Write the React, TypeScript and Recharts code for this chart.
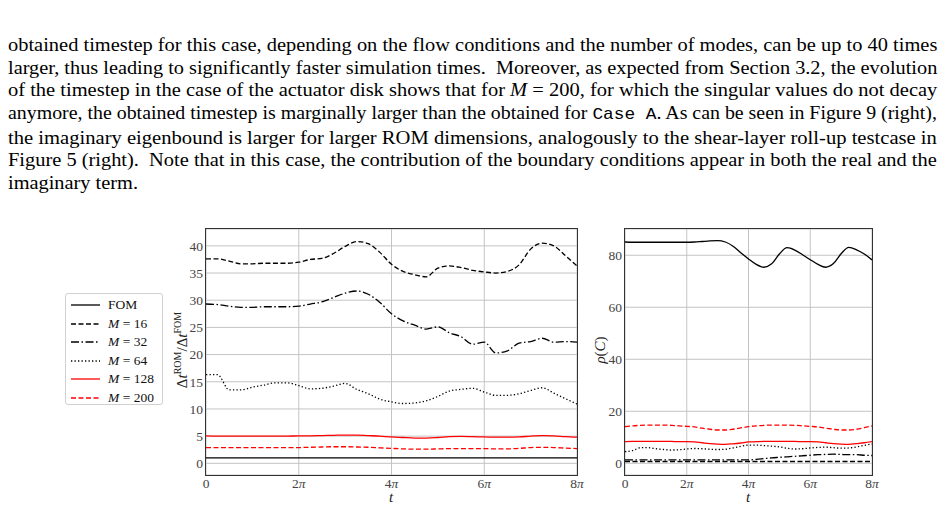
import React, { useLayoutEffect, useRef } from 'react';
import { CartesianGrid, Line, LineChart, XAxis, YAxis } from 'recharts';

// t in multiples of pi
const T = [
  0, 0.25, 0.5, 0.75, 1, 1.25, 1.5, 1.75, 2, 2.25, 2.5, 2.75, 3, 3.25, 3.5, 3.75, 4,
  4.25, 4.5, 4.75, 5, 5.25, 5.5, 5.75, 6, 6.25, 6.5, 6.75, 7, 7.25, 7.5, 7.75, 8,
];
const X_TICKS = [0, 2, 4, 6, 8];
const DT_TICKS = [0, 5, 10, 15, 20, 25, 30, 35, 40];
const RHO_TICKS = [0, 20, 40, 60, 80];

// left panel: dt_ROM / dt_FOM
const DT_FOM = [
  1, 1, 1, 1, 1, 1, 1, 1, 1, 1, 1, 1, 1, 1, 1, 1, 1, 1, 1, 1, 1, 1, 1, 1, 1, 1, 1, 1, 1, 1, 1, 1, 1,
];
const DT_M16 = [
  37.6, 37.6, 37.2, 36.7, 36.7, 36.8, 36.8, 36.8, 37.0, 37.5, 37.7, 38.6, 39.9, 40.8, 40.4, 38.8, 36.6,
  35.3, 34.7, 34.3, 35.9, 36.3, 36.0, 35.5, 35.2, 35.0, 35.3, 36.5, 39.4, 40.5, 40.0, 38.2, 36.3,
];
const DT_M32 = [
  29.3, 29.2, 28.9, 28.7, 28.7, 28.8, 28.8, 28.8, 28.9, 29.3, 29.7, 30.5, 31.3, 31.7, 31.1, 29.6, 27.5,
  26.2, 25.4, 24.7, 25.1, 24.0, 23.3, 21.9, 22.3, 20.3, 20.7, 22.1, 22.4, 23.0, 22.3, 22.4, 22.3,
];
const DT_M64 = [
  16.3, 16.3, 13.5, 13.5, 14.0, 14.4, 14.8, 14.8, 14.3, 13.7, 13.8, 14.2, 14.7, 13.6, 12.8, 11.8, 11.3,
  11.0, 11.1, 11.5, 12.3, 13.3, 13.6, 13.8, 13.1, 12.5, 12.5, 12.8, 13.4, 13.9, 12.9, 11.9, 10.9,
];
const DT_M128 = [
  5.05, 5.0, 5.0, 5.0, 5.0, 5.0, 5.0, 5.0, 5.05, 5.05, 5.1, 5.15, 5.2, 5.2, 5.1, 5.0, 4.85,
  4.75, 4.65, 4.65, 4.75, 4.9, 4.95, 4.9, 4.85, 4.8, 4.8, 4.85, 5.0, 5.1, 5.05, 4.9, 4.8,
];
const DT_M200 = [
  2.9, 2.9, 2.9, 2.9, 2.9, 2.9, 2.9, 2.9, 2.9, 2.95, 3.0, 3.05, 3.05, 3.0, 2.95, 2.85, 2.75,
  2.65, 2.6, 2.6, 2.65, 2.7, 2.7, 2.7, 2.7, 2.65, 2.65, 2.75, 2.9, 2.95, 2.9, 2.8, 2.7,
];

// right panel: rho(C)
const RHO_FOM = [
  85.1, 85.0, 85.0, 85.0, 85.0, 85.0, 85.0, 85.0, 85.0, 85.1, 85.3, 85.5, 85.6, 85.1, 83.5, 81.0, 78.6,
  76.5, 75.4, 76.7, 80.5, 82.9, 82.0, 80.2, 78.3, 76.5, 75.4, 76.8, 80.6, 83.0, 82.1, 80.5, 78.2,
];
const RHO_M16 = [
  0.7, 0.7, 0.7, 0.7, 0.7, 0.7, 0.7, 0.7, 0.7, 0.7, 0.7, 0.7, 0.7, 0.7, 0.7, 0.7, 0.7,
  0.7, 0.7, 0.7, 0.7, 0.7, 0.7, 0.7, 0.7, 0.7, 0.7, 0.7, 0.7, 0.7, 0.7, 0.7, 0.7,
];
const RHO_M32 = [
  1.3, 1.3, 1.3, 1.3, 1.3, 1.3, 1.3, 1.3, 1.3, 1.3, 1.3, 1.3, 1.3, 1.3, 1.3, 1.3, 1.3,
  1.5, 1.8, 2.1, 2.3, 2.5, 2.7, 2.9, 3.1, 3.3, 3.4, 3.5, 3.4, 3.3, 3.3, 3.1, 3.0,
];
const RHO_M64 = [
  4.5, 4.9, 6.0, 6.0, 5.6, 5.3, 5.1, 5.2, 5.5, 5.7, 5.6, 5.4, 5.3, 5.4, 5.9, 6.5, 7.0,
  7.0, 6.8, 6.6, 6.3, 5.8, 5.5, 5.6, 5.9, 6.1, 6.2, 6.0, 5.8, 5.9, 6.3, 6.9, 7.4,
];
const RHO_M128 = [
  8.3, 8.4, 8.4, 8.4, 8.4, 8.4, 8.4, 8.3, 8.3, 8.2, 7.9, 7.6, 7.4, 7.3, 7.5, 7.8, 8.2,
  8.3, 8.4, 8.4, 8.4, 8.4, 8.4, 8.3, 8.3, 8.2, 7.9, 7.6, 7.4, 7.3, 7.6, 7.9, 8.3,
];
const RHO_M200 = [
  14.1, 14.4, 14.6, 14.7, 14.7, 14.7, 14.6, 14.4, 14.2, 14.0, 13.5, 13.1, 12.8, 12.8, 13.1, 13.6, 14.1,
  14.4, 14.6, 14.7, 14.7, 14.7, 14.6, 14.4, 14.2, 14.0, 13.5, 13.1, 12.8, 12.8, 13.1, 13.7, 14.4,
];

const SERIES = [
  { key: 'fom', label: 'FOM', modes: null, color: '#000000', dash: undefined },
  { key: 'm16', label: 'M', modes: 16, color: '#000000', dash: '5 2.5' },
  { key: 'm32', label: 'M', modes: 32, color: '#000000', dash: '8 2.5 1.5 2.5' },
  { key: 'm64', label: 'M', modes: 64, color: '#000000', dash: '1.3 2.2' },
  { key: 'm128', label: 'M', modes: 128, color: '#ff0000', dash: undefined },
  { key: 'm200', label: 'M', modes: 200, color: '#ff0000', dash: '5 2.5' },
];

const dtData = T.map((t, i) => ({
  t,
  fom: DT_FOM[i],
  m16: DT_M16[i],
  m32: DT_M32[i],
  m64: DT_M64[i],
  m128: DT_M128[i],
  m200: DT_M200[i],
}));

const rhoData = T.map((t, i) => ({
  t,
  fom: RHO_FOM[i],
  m16: RHO_M16[i],
  m32: RHO_M32[i],
  m64: RHO_M64[i],
  m128: RHO_M128[i],
  m200: RHO_M200[i],
}));

const SERIF = '"Liberation Serif", "DejaVu Serif", serif';
const TICK_COLOR = '#444';
const GRID_COLOR = '#c4c4c4';
const SPINE_COLOR = '#333';
const TEXT_WIDTH = 929;

const PiTick = (props: any) => {
  const { x, y, payload } = props;
  const v = payload.value;
  return (
    <text x={x} y={y} dy="0.71em" textAnchor="middle" fill={TICK_COLOR} fontSize={13.5} fontFamily={SERIF}>
      {v === 0 ? '0' : (
        <>
          {v}
          <tspan fontStyle="italic">π</tspan>
        </>
      )}
    </text>
  );
};

const mono: React.CSSProperties = { fontFamily: '"Liberation Mono", monospace', fontSize: 17 };

const LINES: React.ReactNode[] = [
  'obtained timestep for this case, depending on the flow conditions and the number of modes, can be up to 40 times',
  'larger, thus leading to significantly faster simulation times.  Moreover, as expected from Section 3.2, the evolution',
  <>
    of the timestep in the case of the actuator disk shows that for <i>M</i> = 200, for which the singular values do not decay
  </>,
  <>
    anymore, the obtained timestep is marginally larger than the obtained for <span style={mono}>Case A</span>. As can be seen in Figure 9 (right),
  </>,
  'the imaginary eigenbound is larger for larger ROM dimensions, analogously to the shear-layer roll-up testcase in',
  'Figure 5 (right).  Note that in this case, the contribution of the boundary conditions appear in both the real and the',
  'imaginary term.',
];

// each line is stretched / squeezed to the full text width, like the typeset page
const Paragraph: React.FC = () => {
  const refs = useRef<Array<HTMLSpanElement | null>>([]);
  useLayoutEffect(() => {
    const scales: number[] = [];
    refs.current.forEach((el, i) => {
      if (!el || i === LINES.length - 1) return;
      const s = TEXT_WIDTH / el.offsetWidth;
      scales.push(s);
      el.style.transform = `scaleX(${s})`;
    });
    const last = refs.current[LINES.length - 1];
    if (last && scales.length) {
      const avg = scales.reduce((a, b) => a + b, 0) / scales.length;
      last.style.transform = `scaleX(${avg})`;
    }
  }, []);
  return (
    <div style={{ position: 'absolute', left: 8, top: 34, width: TEXT_WIDTH, fontSize: 19, lineHeight: '22.65px', color: '#000' }}>
      {LINES.map((line, i) => (
        <div key={i} style={{ whiteSpace: 'nowrap' }}>
          <span
            ref={(el) => {
              refs.current[i] = el;
            }}
            style={{ display: 'inline-block', whiteSpace: 'pre', transformOrigin: '0 50%' }}
          >
            {line}
          </span>
        </div>
      ))}
    </div>
  );
};

interface PanelProps {
  data: Array<Record<string, number>>;
  left: number;
  width: number;
  axisWidth: number;
  rightMargin: number;
  domain: [number, number];
  ticks: number[];
}

const Panel: React.FC<PanelProps> = ({ data, left, width, axisWidth, rightMargin, domain, ticks }) => (
  <div style={{ position: 'absolute', left, top: 220 }}>
    <LineChart width={width} height={288} data={data} margin={{ top: 9, right: rightMargin, bottom: 0, left: 0 }}>
      <CartesianGrid stroke={GRID_COLOR} strokeWidth={1} />
      <XAxis
        type="number"
        dataKey="t"
        domain={[0, 8]}
        ticks={X_TICKS}
        height={33}
        axisLine={false}
        tickLine={false}
        tickSize={0}
        tickMargin={3}
        tick={<PiTick />}
        allowDataOverflow
      />
      <YAxis
        type="number"
        domain={domain}
        ticks={ticks}
        width={axisWidth}
        axisLine={false}
        tickLine={false}
        tickSize={0}
        tickMargin={3}
        tick={{ fill: TICK_COLOR, fontSize: 13.5, fontFamily: SERIF }}
        allowDataOverflow
      />
      {SERIES.map((s) => (
        <Line
          key={s.key}
          dataKey={s.key}
          type="monotone"
          stroke={s.color}
          strokeWidth={1.3}
          strokeDasharray={s.dash}
          dot={false}
          activeDot={false}
          isAnimationActive={false}
        />
      ))}
    </LineChart>
  </div>
);

const Legend: React.FC = () => (
  <div
    style={{
      position: 'absolute',
      left: 65,
      top: 293,
      width: 98,
      height: 112,
      boxSizing: 'border-box',
      border: '1px solid #d0d0d0',
      borderRadius: 3,
      background: '#fff',
      paddingTop: 2,
      fontFamily: SERIF,
      fontSize: 13.5,
      color: '#111',
    }}
  >
    {SERIES.map((s) => (
      <div key={s.key} style={{ height: 18.5, display: 'flex', alignItems: 'center' }}>
        <svg width={38} height={10} style={{ marginLeft: 4, flex: 'none' }}>
          <line x1={1} y1={5} x2={30} y2={5} stroke={s.color} strokeWidth={1.3} strokeDasharray={s.dash} />
        </svg>
        <span>
          {s.modes === null ? s.label : (
            <>
              <i>{s.label}</i> = {s.modes}
            </>
          )}
        </span>
      </div>
    ))}
  </div>
);

const Spines: React.FC<{ left: number; width: number }> = ({ left, width }) => (
  <div
    style={{
      position: 'absolute',
      left,
      top: 228,
      width,
      height: 248,
      boxSizing: 'border-box',
      border: `1px solid ${SPINE_COLOR}`,
      pointerEvents: 'none',
    }}
  />
);

const rotated = (x: number, y: number): React.CSSProperties => ({
  position: 'absolute',
  left: x,
  top: y,
  transform: 'translate(-50%, -50%) rotate(-90deg)',
  whiteSpace: 'nowrap',
  fontFamily: SERIF,
  fontSize: 15,
  lineHeight: 1,
  color: '#222',
});

const tLabel = (x: number): React.CSSProperties => ({
  position: 'absolute',
  left: x,
  top: 497,
  transform: 'translate(-50%, -50%)',
  fontSize: 15,
  lineHeight: 1,
  fontStyle: 'italic',
  color: '#222',
});

export default function App() {
  return (
    <div style={{ position: 'absolute', left: 0, top: 0, width: 945, height: 508, background: '#fff', fontFamily: SERIF }}>
      <Paragraph />

      <Legend />

      <div style={rotated(181, 350)}>
        Δ<i>t</i>
        <sup style={{ fontSize: 10 }}>ROM</sup>/Δ<i>t</i>
        <sup style={{ fontSize: 10 }}>FOM</sup>
      </div>
      <Panel data={dtData} left={150} width={440} axisWidth={56} rightMargin={13} domain={[-2.15, 43.1]} ticks={DT_TICKS} />
      <Spines left={205} width={373} />
      <div style={tLabel(391)}>t</div>

      <div style={rotated(600, 350)}>
        <i>ρ</i>(<i>C</i>)
      </div>
      <Panel data={rhoData} left={590} width={300} axisWidth={35} rightMargin={18} domain={[-4.5, 90.1]} ticks={RHO_TICKS} />
      <Spines left={624} width={249} />
      <div style={tLabel(748)}>t</div>
    </div>
  );
}
